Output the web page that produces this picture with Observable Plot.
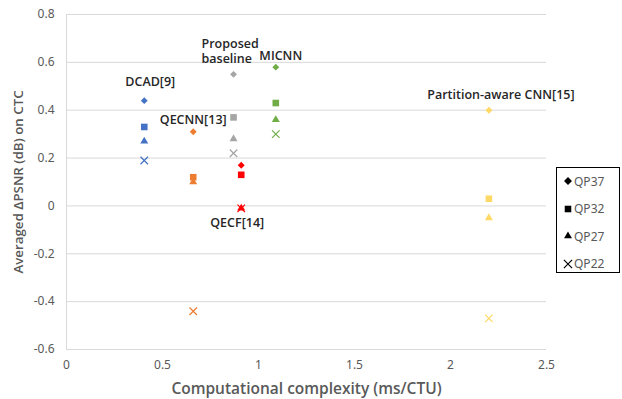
<!DOCTYPE html>
<html><head><meta charset="utf-8">
<script src="https://cdn.jsdelivr.net/npm/d3@7"></script>
<script src="https://cdn.jsdelivr.net/npm/@observablehq/plot@0.6"></script>
<style>
body{margin:0;background:#fff;}
#wrap{position:relative;width:622px;height:399px;font-family:"Noto Sans",sans-serif;}
#legend{position:absolute;left:556px;top:167px;width:64px;height:106px;border:1px solid #000;box-sizing:border-box;background:#fff;}
.li{position:absolute;left:6px;height:16px;display:flex;align-items:center;font-size:12px;color:#595959;}
.li svg{margin-right:1px;}
</style></head><body><div id="wrap"><div id="legend"></div></div>
<script>
// ---- data ----
const methods = ["DCAD[9]", "QECNN[13]", "Proposed baseline", "MICNN", "QECF[14]", "Partition-aware CNN[15]"];
const complexity = [0.405, 0.66, 0.87, 1.09, 0.91, 2.2];
const qp37 = [0.44, 0.31, 0.55, 0.58, 0.17, 0.40];
const qp32 = [0.33, 0.12, 0.37, 0.43, 0.13, 0.03];
const qp27 = [0.27, 0.10, 0.28, 0.36, -0.01, -0.05];
const qp22 = [0.19, -0.44, 0.22, 0.30, -0.01, -0.47];
const qpNames = ["QP37", "QP32", "QP27", "QP22"];
const xTicks = [0, 0.5, 1, 1.5, 2, 2.5];
const yTicks = [-0.6, -0.4, -0.2, 0, 0.2, 0.4, 0.6, 0.8];
const methodColors = ["#4472C4", "#ED7D31", "#A5A5A5", "#70AD47", "#FF0000", "#FFD966"];
const xTitle = "Computational complexity (ms/CTU)";
const yTitle = "Averaged ΔPSNR (dB) on CTC";

// ---- build ----
const series = [qp37, qp32, qp27, qp22];
const symbols = ["diamond2", "square2", "triangle2", "times"];
const radii = [3.1, 4.2, 3.8, 3.5];
const points = [];
methods.forEach((m, i) => series.forEach((s, j) => points.push({method: m, qp: qpNames[j], x: complexity[i], y: s[i]})));

const labelFont = {fontFamily: "Open Sans", fontWeight: 600, fontSize: 12.5, fill: "#262626"};
const labelAt = (i, ys, text, dx, dy, extra = {}) =>
  Plot.text([{x: complexity[i], y: ys[i], t: text}], {x: "x", y: "y", text: "t", dx, dy, ...labelFont, ...extra});

const marks = [
  Plot.ruleY(yTicks, {stroke: "#d9d9d9", strokeWidth: 1}),
  Plot.ruleX([0], {stroke: "#d9d9d9", strokeWidth: 1}),
  Plot.axisX({ticks: xTicks, tickSize: 0, tickPadding: 11, tickFormat: d => String(d), fontSize: 12, label: null}),
  Plot.axisY({ticks: yTicks, tickSize: 0, tickPadding: 12, tickFormat: d => String(d), fontSize: 12, label: null}),
  ...qpNames.map((q, j) => Plot.dot(points.filter(p => p.qp === q), {
    x: "x", y: "y", symbol: symbols[j], r: radii[j],
    ...(symbols[j] === "times" ? {stroke: "method", strokeWidth: 1.2} : {fill: "method"})
  })),
  labelAt(0, qp37, methods[0], 6, -19),
  labelAt(1, qp37, methods[1], 0, -12),
  labelAt(2, qp37, "Proposed\nbaseline", -32, -24, {lineHeight: 1.2, textAnchor: "start"}),
  labelAt(3, qp37, methods[3], 5, -11),
  labelAt(4, qp22, methods[4], -4, 15),
  labelAt(5, qp37, methods[5], 12, -15),
  Plot.text([xTitle], {frameAnchor: "bottom", lineAnchor: "middle", dy: 39.5, fontSize: 15.5, fontWeight: 600, fill: "#595959", fontFamily: "Open Sans"}),
  Plot.text([yTitle], {frameAnchor: "left", textAnchor: "middle", lineAnchor: "middle", rotate: -90, dx: -48, dy: 0, fontSize: 13.3, fontWeight: 600, fill: "#595959", fontFamily: "Open Sans"})
];

const chart = Plot.plot({
  width: 622, height: 399,
  marginLeft: 66, marginRight: 76, marginTop: 14, marginBottom: 50,
  x: {domain: [0, 2.5]},
  y: {domain: [-0.6, 0.8]},
  color: {domain: methods, range: methodColors},
  style: {color: "#595959", fontFamily: "Noto Sans", background: "#fff"},
  marks
});
document.getElementById("wrap").prepend(chart);

// legend
const legend = document.getElementById("legend");
const legSym = [d3.symbolDiamond2, d3.symbolSquare2, d3.symbolTriangle2, d3.symbolTimes];
const legSize = [40, 55, 45, 45];
qpNames.forEach((q, j) => {
  const div = document.createElement("div");
  div.className = "li";
  div.style.top = (5 + j * 27.5) + "px";
  const path = d3.symbol(legSym[j], legSize[j])();
  const style = j === 3 ? 'fill="none" stroke="#000" stroke-width="1.2"' : 'fill="#000"';
  div.innerHTML = `<svg width="10" height="10" viewBox="-5 -5 10 10"><path d="${path}" ${style}/></svg><span>${q}</span>`;
  legend.appendChild(div);
});
</script></body></html>
